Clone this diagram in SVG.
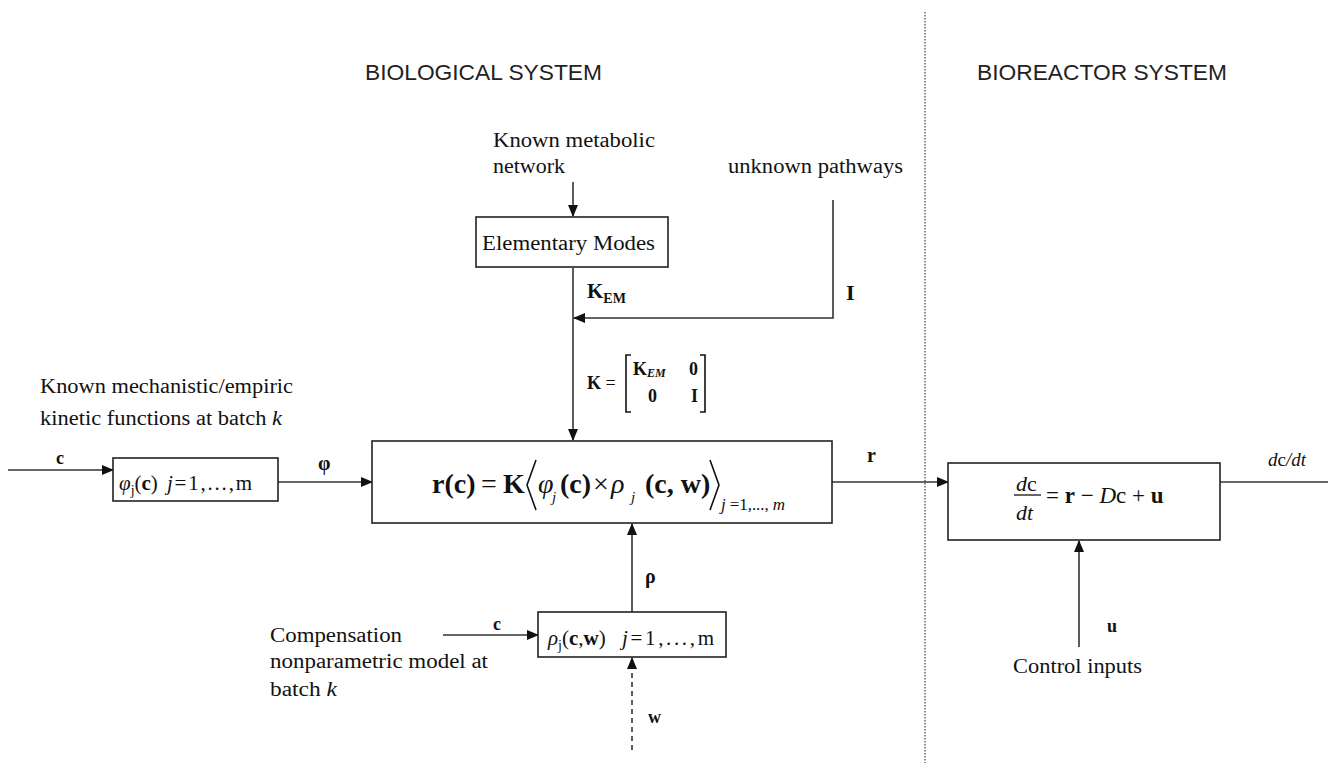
<svg xmlns="http://www.w3.org/2000/svg" width="1328" height="763" viewBox="0 0 1328 763">
<style>
.bx{fill:#fff;stroke:#222;stroke-width:1.6}
.ln{fill:none;stroke:#333;stroke-width:1.6}
.t{font-family:"Liberation Serif",serif;font-size:20px;fill:#111}
.b{font-weight:bold}
.i{font-style:italic}
.h{font-family:"Liberation Sans",Arial,sans-serif;font-size:22px;fill:#222}
.del{fill:none;stroke:#111;stroke-width:1.6}
</style>
<defs>
<marker id="ah" markerWidth="12" markerHeight="10" refX="11" refY="5" orient="auto" markerUnits="userSpaceOnUse">
<path d="M0,0 L12,5 L0,10 Z" fill="#111"/>
</marker>
</defs>
<rect width="1328" height="763" fill="#fff"/>

<line x1="925" y1="12" x2="925" y2="763" stroke="#666" stroke-width="1.5" stroke-dasharray="1.5,1.5"/>
<text class="h" x="365" y="80" textLength="237" lengthAdjust="spacingAndGlyphs">BIOLOGICAL SYSTEM</text>
<text class="h" x="977" y="80" textLength="250" lengthAdjust="spacingAndGlyphs">BIOREACTOR SYSTEM</text>

<g id="connectors">
<line class="ln" x1="573" y1="182" x2="573" y2="216" marker-end="url(#ah)"/>
<line class="ln" x1="573" y1="268" x2="573" y2="440" marker-end="url(#ah)"/>
<polyline class="ln" points="833,200 833,318 574,318" marker-end="url(#ah)"/>
<line class="ln" x1="8" y1="470" x2="113" y2="470" stroke-width="2" marker-end="url(#ah)"/>
<line class="ln" x1="278" y1="482" x2="372" y2="482" stroke-width="2" marker-end="url(#ah)"/>
<line class="ln" x1="832" y1="482" x2="948" y2="482" stroke-width="2" marker-end="url(#ah)"/>
<line class="ln" x1="1220" y1="482" x2="1328" y2="482" stroke-width="2"/>
<line class="ln" x1="632" y1="612" x2="632" y2="524" marker-end="url(#ah)"/>
<line class="ln" x1="443" y1="635" x2="538" y2="635" marker-end="url(#ah)"/>
<line class="ln" x1="632" y1="750" x2="632" y2="658" stroke-dasharray="5,4" marker-end="url(#ah)"/>
<line class="ln" x1="1079" y1="647" x2="1079" y2="541" marker-end="url(#ah)"/>
</g>

<g id="labels">
<text class="t" x="493" y="147" textLength="162" lengthAdjust="spacingAndGlyphs">Known metabolic</text>
<text class="t" x="493" y="173" textLength="72" lengthAdjust="spacingAndGlyphs">network</text>
<text class="t" x="728" y="173" textLength="175" lengthAdjust="spacingAndGlyphs">unknown pathways</text>
<text class="t b" x="587" y="298" style="font-size:21px">K<tspan font-size="14" dy="5">EM</tspan></text>
<text class="t b" x="846" y="300" style="font-size:22px">I</text>
<text class="t" x="40" y="393" textLength="253" lengthAdjust="spacingAndGlyphs">Known mechanistic/empiric</text>
<text class="t" x="40" y="425" textLength="242" lengthAdjust="spacingAndGlyphs">kinetic functions at batch <tspan class="i">k</tspan></text>
<text class="t b" x="56" y="464" style="font-size:18px">c</text>
<text class="t b" x="318" y="470" style="font-size:20px">φ</text>
<text class="t b" x="867" y="462" style="font-size:20px">r</text>
<text class="t b" x="645" y="583" style="font-size:20px">ρ</text>
<text class="t b" x="493" y="630" style="font-size:18px">c</text>
<text class="t b" x="648" y="723" style="font-size:18px">w</text>
<text class="t" x="270" y="642" textLength="132" lengthAdjust="spacingAndGlyphs">Compensation</text>
<text class="t" x="270" y="668" textLength="218" lengthAdjust="spacingAndGlyphs">nonparametric model at</text>
<text class="t" x="270" y="696" textLength="67" lengthAdjust="spacingAndGlyphs">batch <tspan class="i">k</tspan></text>
<text class="t b" x="1107" y="632" style="font-size:18px">u</text>
<text class="t" x="1013" y="673" textLength="129" lengthAdjust="spacingAndGlyphs">Control inputs</text>
<text class="t" x="1268" y="466" style="font-size:19px"><tspan class="i">d</tspan><tspan>c</tspan><tspan class="i">/dt</tspan></text>
<text class="t b" x="587" y="389" style="font-size:18px">K <tspan font-weight="normal">=</tspan></text>
<path class="del" d="M631,355 L626,355 L626,412 L631,412 M700,355 L705,355 L705,412 L700,412"/>
<text class="t b" x="633" y="375" style="font-size:18px">K<tspan class="i" font-size="12" dy="2">EM</tspan></text>
<text class="t b" x="689" y="375" style="font-size:18px">0</text>
<text class="t b" x="648" y="402" style="font-size:18px">0</text>
<text class="t b" x="691" y="402" style="font-size:18px">I</text>
</g>

<g id="node-em">
<rect class="bx" x="476" y="217" width="192" height="50"/>
<text class="t" x="482" y="250" textLength="173" lengthAdjust="spacingAndGlyphs">Elementary Modes</text>
</g>

<g id="node-phi">
<rect class="bx" x="113" y="458" width="165" height="43"/>
<text class="t" y="490" style="font-size:21px"><tspan x="119" class="i">φ</tspan><tspan font-size="14" dy="5">j</tspan><tspan dy="-5">(</tspan><tspan class="b">c</tspan><tspan>)</tspan></text>
<text class="t" x="167" y="490" style="font-size:21px" textLength="85" lengthAdjust="spacing"><tspan class="i">j</tspan>=1,...,m</text>
</g>

<g id="node-main">
<rect class="bx" x="372" y="441" width="460" height="82"/>
<text class="t b" y="493" style="font-size:28px"><tspan x="432">r(c)</tspan><tspan x="481" font-weight="normal">=</tspan><tspan x="503">K</tspan><tspan x="538" class="i" font-weight="normal">φ</tspan><tspan x="552" dy="9" class="i" font-weight="normal" font-size="15">j</tspan><tspan x="560" dy="-9">(c)</tspan><tspan x="593" font-weight="normal">×</tspan><tspan x="611" class="i" font-weight="normal">ρ</tspan><tspan x="631" dy="9" class="i" font-weight="normal" font-size="15">j</tspan><tspan x="645" dy="-9">(c, w)</tspan></text>
<path class="del" d="M536,460 L527,485 L536,510 M710,460 L719,485 L710,510"/>
<text class="t" x="721" y="510" style="font-size:17px" textLength="64" lengthAdjust="spacing"><tspan class="i">j</tspan> =1,..., <tspan class="i">m</tspan></text>
</g>

<g id="node-rho">
<rect class="bx" x="538" y="612" width="188" height="45"/>
<text class="t" y="645" style="font-size:21px"><tspan x="548" class="i">ρ</tspan><tspan font-size="14" dy="5">j</tspan><tspan dy="-5">(</tspan><tspan class="b">c</tspan><tspan>,</tspan><tspan class="b">w</tspan><tspan>)</tspan></text>
<text class="t" x="622" y="645" style="font-size:21px" textLength="92" lengthAdjust="spacing"><tspan class="i">j</tspan>=1,...,m</text>
</g>

<g id="node-bioreactor">
<rect class="bx" x="948" y="463" width="272" height="77"/>
<text class="t" x="1016" y="491" style="font-size:22px"><tspan class="i">d</tspan><tspan>c</tspan></text>
<line x1="1014" y1="495" x2="1041" y2="495" stroke="#333" stroke-width="1.5"/>
<text class="t i" x="1016" y="520" style="font-size:22px">dt</text>
<text class="t" x="1046" y="503" style="font-size:23px"><tspan>= </tspan><tspan class="b">r</tspan><tspan> − </tspan><tspan class="i">D</tspan><tspan>c + </tspan><tspan class="b">u</tspan></text>
</g>
</svg>
